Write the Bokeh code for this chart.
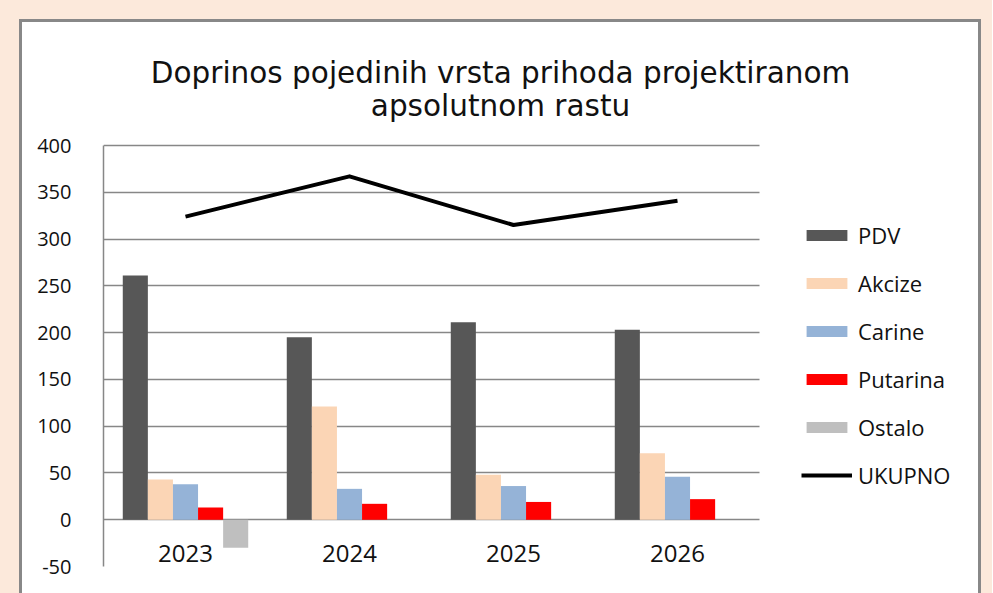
from bokeh.plotting import figure
from bokeh.layouts import column
from bokeh.models import (Range1d, FixedTicker, Legend, LegendItem, Label,
                          PrintfTickFormatter)
from bokeh.transform import dodge
from bokeh.core.properties import value
from bokeh.embed import file_html
from bokeh.resources import INLINE

# ---------------- data ----------------
years = [2023, 2024, 2025, 2026]
year_labels = ["2023", "2024", "2025", "2026"]
pdv = [261, 195, 211, 203]
akcize = [43, 121, 48, 71]
carine = [38, 33, 36, 46]
putarina = [13, 17, 19, 22]
ostalo = [-30, 0, 0, 0]
ukupno = [324, 367, 315, 341]
y_ticks = [-50, 0, 50, 100, 150, 200, 250, 300, 350, 400]
series_names = ["PDV", "Akcize", "Carine", "Putarina", "Ostalo"]
series_values = [pdv, akcize, carine, putarina, ostalo]
series_colors = ["#575757", "#FBD5B5", "#95B3D7", "#FF0000", "#BFBFBF"]

# ---------------- layout constants ----------------
W, H = 956, 571            # white chart box (inside the gray border)
FRAME_LEFT = 81            # y axis position inside the box
PX_PER_UNIT = 421 / 450    # vertical scale of the plot area
TOP_EXTRA = 123            # pixels above the 400 line (title area)
X_PER_CAT = 164            # pixels per year
FONT = "Open Sans"

y_top = 400 + TOP_EXTRA / PX_PER_UNIT
x_start = years[0] - 0.5
x_end = x_start + (W - FRAME_LEFT) / X_PER_CAT

p = figure(width=W, height=H, output_backend="svg", toolbar_location=None,
           x_range=Range1d(x_start, x_end), y_range=Range1d(-50, y_top),
           x_axis_location=None,
           min_border_left=FRAME_LEFT, min_border_right=0,
           min_border_top=0, min_border_bottom=27)
p.border_fill_color = "white"
p.background_fill_color = "white"
p.outline_line_color = None

# axes / grid
p.yaxis.ticker = FixedTicker(ticks=y_ticks)
p.yaxis.formatter = PrintfTickFormatter(format="%d")
p.yaxis.bounds = (y_ticks[0], y_ticks[-1])
p.yaxis.axis_line_color = "#878787"
p.yaxis.axis_line_width = 1.5
p.yaxis.major_tick_line_color = None
p.yaxis.minor_tick_line_color = None
p.yaxis.major_label_standoff = 26
p.yaxis.major_label_text_font = FONT
p.yaxis.major_label_text_font_size = "20px"
p.yaxis.major_label_text_color = "#111111"
p.xgrid.grid_line_color = None
p.ygrid.grid_line_color = "#878787"
p.ygrid.grid_line_width = 1.5
p.ygrid.cross_bounds = (years[0] - 0.5, years[-1] + 0.5)

# bars
bw = 0.153
items = []
for i, (name, vals, col) in enumerate(zip(series_names, series_values, series_colors)):
    src = {"x": years, "top": vals}
    r = p.vbar(x=dodge("x", (i - 2) * bw), top="top", bottom=0,
               width=bw, source=src, fill_color=col, line_color=None)
    items.append(LegendItem(label=name, renderers=[r]))

ln = p.line(x=years, y=ukupno, line_color="black", line_width=4, line_join="round")
items.append(LegendItem(label="UKUPNO", renderers=[ln]))

# category labels under zero line
p.text(x=years, y=[0] * len(years), text=year_labels, y_offset=34,
       text_align="center", text_baseline="middle",
       text_font=value(FONT), text_font_size="24px", text_color="#111111")

# legend
legend = Legend(items=items, location=(698, 76), orientation="vertical",
                glyph_width=51, glyph_height=14, label_standoff=6,
                label_height=30, spacing=18, padding=0, margin=0,
                border_line_color=None, background_fill_alpha=0,
                label_text_font=FONT, label_text_font_size="22px",
                label_text_color="#111111")
p.add_layout(legend, "center")

# title (two lines)
for txt, yy in [("Doprinos pojedinih vrsta prihoda projektiranom", 494),
                ("apsolutnom rastu", 461)]:
    p.add_layout(Label(x=397, y=yy, x_units="screen", y_units="screen", text=txt,
                       text_align="center", text_baseline="alphabetic",
                       text_font="DejaVu Sans", text_font_size="29.5px",
                       text_color="#111111"))

inner = column(p, styles={"background-color": "white"})
box = column(inner, styles={"background-color": "#888888", "padding": "3px 3px 0px 3px"})
page = column(box, styles={"background-color": "#FCE9DB", "padding": "19px 11px 0px 19px"})

open("out.html", "w").write(file_html(page, INLINE))
